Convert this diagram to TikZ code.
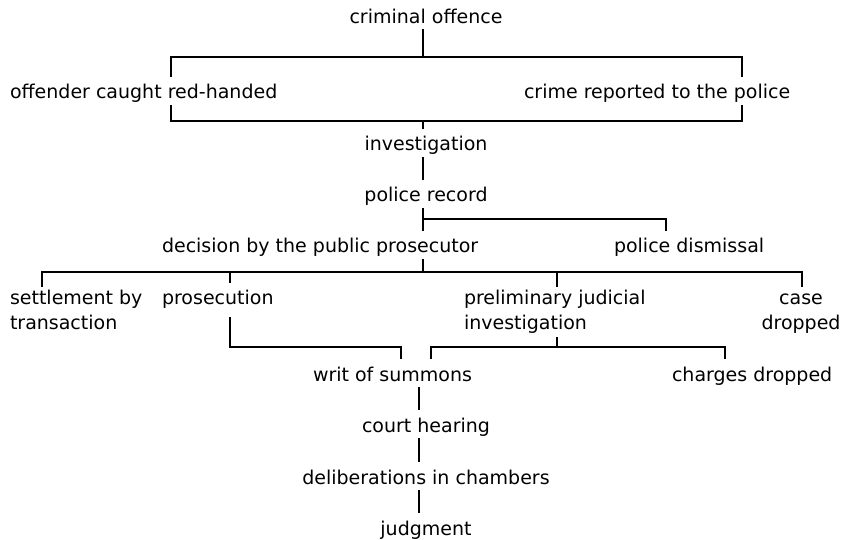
\documentclass[tikz,border=0pt]{standalone}
\usepackage{fontspec}
\setmainfont{DejaVu Sans}
\begin{document}
\begin{tikzpicture}[x=1pt,y=-1pt,
  lbl/.style={inner sep=0pt, outer xsep=0pt, outer ysep=3pt, text height=19pt, text depth=3pt, font=\fontsize{19}{25}\selectfont, text=black},
  multi/.style={lbl, text height=, text depth=},
  link/.style={line width=1.7pt, draw=black}]
\useasboundingbox (0,0) rectangle (852,540);
% nodes
\node[lbl, anchor=base] (crim) at (426,23.5) {criminal offence};
\node[lbl, anchor=base west] (red) at (10,99) {offender caught red-handed};
\node[lbl, anchor=base west] (rep) at (524,99) {crime reported to the police};
\node[lbl, anchor=base] (inv) at (426,151) {investigation};
\node[lbl, anchor=base] (rec) at (426,202) {police record};
\node[lbl, anchor=base west] (dec) at (162,253) {decision by the public prosecutor};
\node[lbl, anchor=base west] (dis) at (614,253) {police dismissal};
\node[multi, anchor=north west, align=left] (set) at (10,287) {\rule{0pt}{15pt}settlement by\\transaction};
\node[lbl, anchor=base west] (pros) at (162,305) {prosecution};
\node[multi, anchor=north west, align=left] (pre) at (464,287) {\rule{0pt}{15pt}preliminary judicial\\investigation};
\node[multi, anchor=north, align=center] (case) at (801,287) {\rule{0pt}{15pt}case\\dropped};
\node[lbl, anchor=base] (writ) at (392.5,381) {writ of summons};
\node[lbl, anchor=base west] (chg) at (672,381) {charges dropped};
\node[lbl, anchor=base] (court) at (426,432) {court hearing};
\node[lbl, anchor=base] (delib) at (426,484) {deliberations in chambers};
\node[lbl, anchor=base] (judg) at (426,535) {judgment};
% junction coordinates
\coordinate (t1) at (423,57);
\coordinate (tl) at (171,57);
\coordinate (tr) at (742,57);
\coordinate (bl) at (171,121);
\coordinate (br) at (742,121);
\coordinate (b1) at (423,121);
\coordinate (m1) at (423,219);
\coordinate (m2) at (666,219);
\coordinate (d1) at (423,272);
\coordinate (dl) at (42,272);
\coordinate (dr) at (802,272);
\coordinate (dp) at (230,272);
\coordinate (dq) at (557,272);
\coordinate (p1) at (230,347);
\coordinate (p2) at (401,347);
\coordinate (q1) at (557,347);
\coordinate (ql) at (431,347);
\coordinate (qr) at (725,347);
\coordinate (wx) at (419,400);
% connectors
\draw[link] (crim.south -| t1) -- (t1);
\draw[link] (red.north -| tl) -- (tl) -- (tr) -- (rep.north -| tr);
\draw[link] (red.south -| bl) -- (bl) -- (br) -- (rep.south -| br);
\draw[link] (b1) -- (inv.north -| b1);
\draw[link] (inv.south -| b1) -- (rec.north -| b1);
\draw[link] (rec.south -| m1) -- (dec.north -| m1);
\draw[link] (m1) -- (m2) -- (dis.north -| m2);
\draw[link] (dec.south -| d1) -- (d1);
\draw[link] (set.north -| dl) -- (dl) -- (dr) -- (case.north -| dr);
\draw[link] (dp) -- (pros.north -| dp);
\draw[link] (dq) -- (pre.north -| dq);
\draw[link, shorten <=6pt] (pros.south -| p1) -- (p1) -- (p2) -- (writ.north -| p2);
\draw[link] (pre.south -| q1) -- (q1);
\draw[link] (writ.north -| ql) -- (ql) -- (qr) -- (chg.north -| qr);
\draw[link] (writ.south -| wx) -- (court.north -| wx);
\draw[link] (court.south -| wx) -- (delib.north -| wx);
\draw[link] (delib.south -| wx) -- (judg.north -| wx);
\end{tikzpicture}
\end{document}
